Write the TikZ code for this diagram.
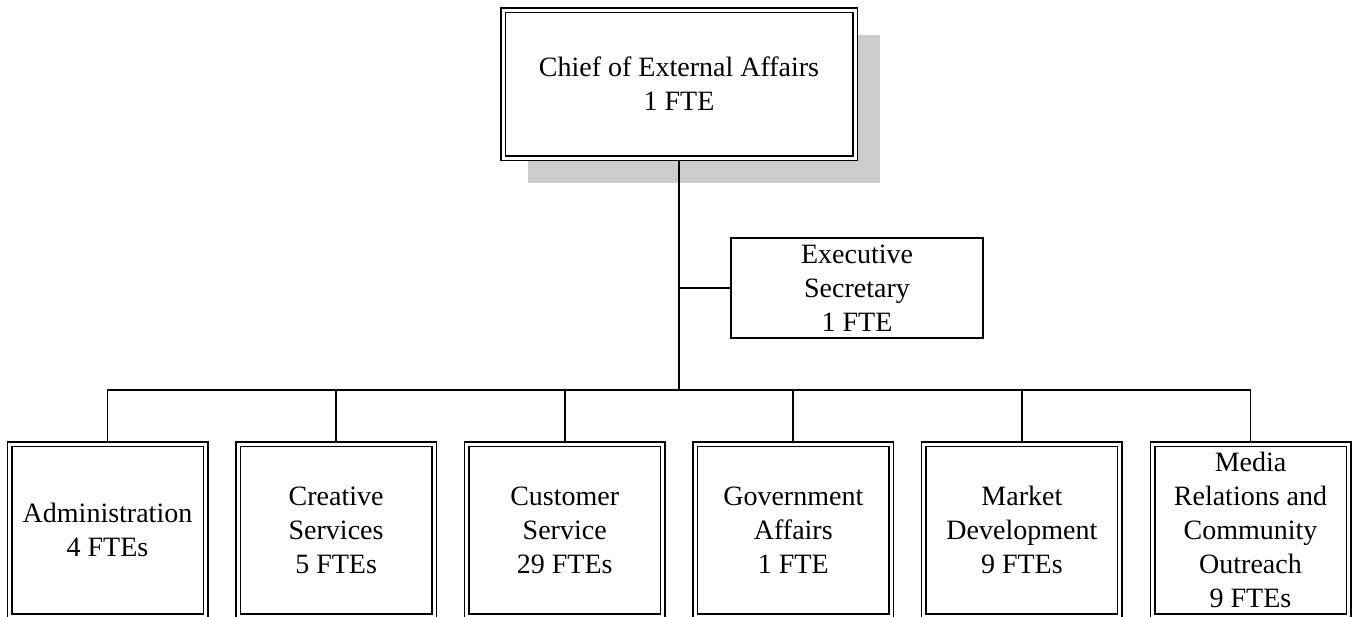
\documentclass[tikz,border=0pt]{standalone}
\usepackage{fontspec}
\setmainfont{Liberation Serif}
\usetikzlibrary{trees,shadows}
\definecolor{shadowgray}{RGB}{204,204,204}

\begin{document}
\begin{tikzpicture}[font=\fontsize{28pt}{34pt}\selectfont,
  level/.style={sibling distance=228.6pt,level distance=446pt},
  dbox/.style={rectangle,draw,double,double distance=3pt,line width=1.5pt,fill=white,align=center,inner sep=1pt,outer sep=3pt},
  unit/.style={dbox,minimum width=196pt,minimum height=172pt},
  sbox/.style={rectangle,draw,line width=1.8pt,fill=white,align=center,inner sep=1pt,minimum width=252pt,minimum height=100pt},
  edge from parent/.style={draw,line width=1.8pt},
  edge from parent path={(\tikzparentnode.south) |- ([yshift=51pt]\tikzchildnode.north) -- (\tikzchildnode.north)}]
\useasboundingbox (0,0) rectangle (1354pt,-616pt);
\node [dbox,minimum width=352pt,minimum height=148pt,drop shadow={shadow xshift=25pt,shadow yshift=-25pt,fill=shadowgray,opacity=1}] (chief) at (679pt,-84pt) {Chief of External Affairs\\1 FTE}
  child {node [unit] (adm) {Administration\\4 FTEs}}
  child {node [unit] (cre) {Creative\\Services\\5 FTEs}}
  child {node [unit] (cus) {Customer\\Service\\29 FTEs}}
  child {node [unit] (gov) {Government\\Affairs\\1 FTE}}
  child {node [unit] (mkt) {Market\\Development\\9 FTEs}}
  child {node [unit] (med) {Media\\Relations and\\Community\\Outreach\\9 FTEs}};
\node [sbox] (sec) at (857pt,-288pt) {Executive\\Secretary\\1 FTE};
\draw [line width=1.8pt] (sec.west) -- (sec.west -| chief.south);
\end{tikzpicture}
\end{document}
